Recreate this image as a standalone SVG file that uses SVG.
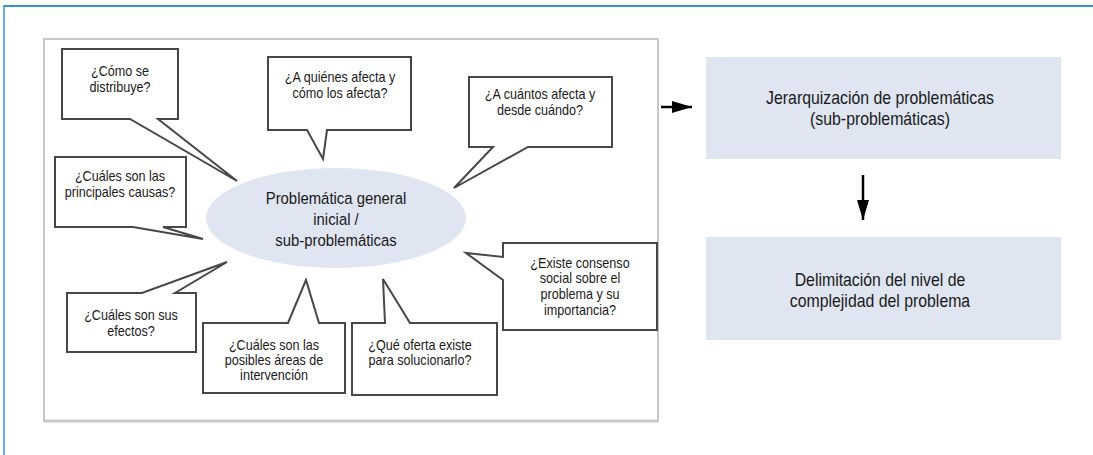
<svg xmlns="http://www.w3.org/2000/svg" width="1093" height="455" viewBox="0 0 1093 455">
<defs>
<style>
.t{font-family:"Liberation Sans Narrow","Liberation Sans",Arial,sans-serif;fill:#1a1a1a;text-anchor:middle}
.s{font-size:14px}
.m{font-size:17px}
.r{font-size:18px}
.bub{fill:#fff;stroke:#474747;stroke-width:2;stroke-linejoin:miter}
.blue{fill:#dfe5f1}
</style>
<marker id="ah" viewBox="0 0 20 12" refX="20" refY="6" markerWidth="20" markerHeight="12" markerUnits="userSpaceOnUse" orient="auto"><path d="M0,0 L20,6 L0,12 Z" fill="#000"/></marker>
</defs>
<rect width="1093" height="455" fill="#fff"/>
<g id="frame">
<line x1="4" y1="6" x2="1093" y2="6" stroke="#3b8fd0" stroke-width="2"/>
<line x1="4" y1="5" x2="4" y2="455" stroke="#3b8fd0" stroke-width="1.5"/>
</g>
<g id="container">
<rect x="44" y="39" width="614" height="382" fill="#fff" stroke="#c9c9c9" stroke-width="2"/>
<line x1="44" y1="421" x2="658" y2="421" stroke="#c9c9c9" stroke-width="3"/>
</g>
<g id="central">
<ellipse cx="336" cy="218" rx="130" ry="50" fill="#dfe5f1"/>
<text class="t m" transform="translate(336 204) scale(.875 1)">Problemática general</text>
<text class="t m" transform="translate(336 225) scale(.875 1)">inicial /</text>
<text class="t m" transform="translate(336 246) scale(.875 1)">sub-problemáticas</text>
</g>
<g id="q1">
<path class="bub" d="M62,49 H178 V119 H158 L237,181 L130,119 H62 Z"/>
<text class="t s" transform="translate(120 76) scale(.9 1)">¿Cómo se</text>
<text class="t s" transform="translate(120 92) scale(.9 1)">distribuye?</text>
</g>
<g id="q2">
<path class="bub" d="M268,57 H411 V130 H327 L323,159 L307,130 H268 Z"/>
<text class="t s" transform="translate(340 82) scale(.9 1)">¿A quiénes afecta y</text>
<text class="t s" transform="translate(340 98) scale(.9 1)">cómo los afecta?</text>
</g>
<g id="q3">
<path class="bub" d="M469,77 H612 V147 H528 L454,188 L493,147 H469 Z"/>
<text class="t s" transform="translate(540 99) scale(.9 1)">¿A cuántos afecta y</text>
<text class="t s" transform="translate(540 115) scale(.9 1)">desde cuándo?</text>
</g>
<g id="q4">
<path class="bub" d="M55,157 H186 V227 H163 L203,239 L133,227 H55 Z"/>
<text class="t s" transform="translate(120 181) scale(.9 1)">¿Cuáles son las</text>
<text class="t s" transform="translate(120 197) scale(.9 1)">principales causas?</text>
</g>
<g id="q5">
<path class="bub" d="M67,293 H142 L227,262 L175,293 H196 V352 H67 Z"/>
<text class="t s" transform="translate(131 320) scale(.9 1)">¿Cuáles son sus</text>
<text class="t s" transform="translate(131 336) scale(.9 1)">efectos?</text>
</g>
<g id="q6">
<path class="bub" d="M203,323 H288 L306,280 L319,323 H345 V393 H203 Z"/>
<text class="t s" transform="translate(274 350) scale(.9 1)">¿Cuáles son las</text>
<text class="t s" transform="translate(274 365) scale(.9 1)">posibles áreas de</text>
<text class="t s" transform="translate(274 380) scale(.9 1)">intervención</text>
</g>
<g id="q7">
<path class="bub" d="M352,323 H385 L383,279 L410,323 H497 V395 H352 Z"/>
<text class="t s" transform="translate(420 350) scale(.9 1)">¿Qué oferta existe</text>
<text class="t s" transform="translate(420 365) scale(.9 1)">para solucionarlo?</text>
</g>
<g id="q8">
<path class="bub" d="M503,243 H657 V330 H503 V280 L466,253 L503,257 Z"/>
<text class="t s" transform="translate(580 268) scale(.9 1)">¿Existe consenso</text>
<text class="t s" transform="translate(580 283) scale(.9 1)">social sobre el</text>
<text class="t s" transform="translate(580 299) scale(.9 1)">problema y su</text>
<text class="t s" transform="translate(580 315) scale(.9 1)">importancia?</text>
</g>
<g id="jerarquizacion">
<rect class="blue" x="706" y="57" width="355" height="102"/>
<text class="t r" transform="translate(880 104) scale(.88 1)">Jerarquización de problemáticas</text>
<text class="t r" transform="translate(880 125) scale(.88 1)">(sub-problemáticas)</text>
</g>
<g id="delimitacion">
<rect class="blue" x="706" y="237" width="355" height="103"/>
<text class="t r" transform="translate(880 286) scale(.88 1)">Delimitación del nivel de</text>
<text class="t r" transform="translate(880 307) scale(.88 1)">complejidad del problema</text>
</g>
<g id="connectors" stroke="#000" stroke-width="2.5" fill="none">
<line x1="661" y1="107" x2="692" y2="107" marker-end="url(#ah)"/>
<line x1="863" y1="175" x2="863" y2="220" marker-end="url(#ah)"/>
</g>
</svg>
